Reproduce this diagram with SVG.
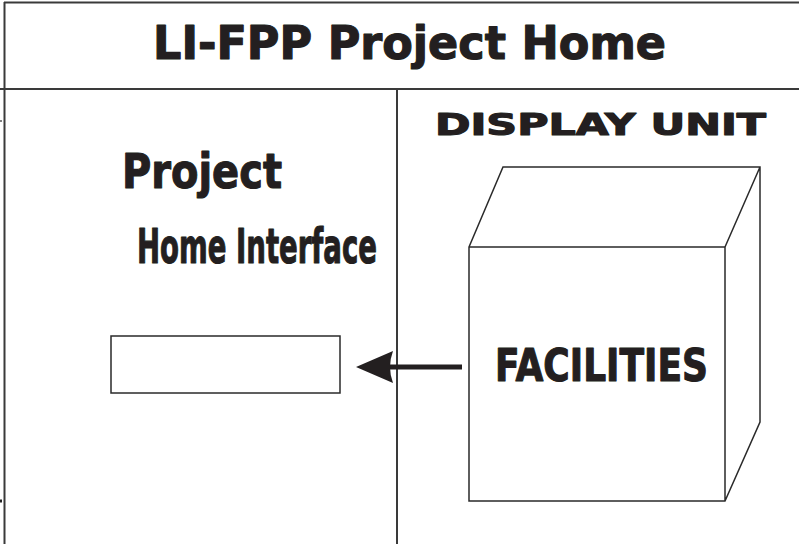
<svg xmlns="http://www.w3.org/2000/svg" width="799" height="544" viewBox="0 0 799 544">
<style>
.frame{stroke:#3a3a3a;stroke-width:2;fill:none}
.thin{stroke:#2a2a2a;stroke-width:1.5;fill:none}
.t{font-family:"DejaVu Sans","Liberation Sans",Arial,sans-serif;font-weight:bold;fill:#231f20;stroke:#231f20;stroke-linejoin:round}
</style>
<rect width="799" height="544" fill="#ffffff"/>
<g id="frame">
<line class="frame" x1="4" y1="2.5" x2="799" y2="2.5"/>
<line class="frame" x1="4.5" y1="2" x2="4.5" y2="544"/>
<line class="frame" x1="0" y1="89" x2="799" y2="89"/>
<line class="frame" x1="397" y1="89" x2="397" y2="544"/>
<line stroke="#555" stroke-width="1.5" x1="0" y1="121" x2="2" y2="121"/>
<line stroke="#222" stroke-width="3" x1="0" y1="501" x2="2" y2="501"/>
</g>
<g id="title">
<text class="t" x="153" y="59" font-size="47" stroke-width="1.2" textLength="513" lengthAdjust="spacingAndGlyphs">LI-FPP Project Home</text>
</g>
<g id="project-home-interface">
<text class="t" x="122" y="188" font-size="48" stroke-width="1.2" textLength="160" lengthAdjust="spacingAndGlyphs">Project</text>
<text class="t" x="137" y="263" font-size="48" stroke-width="1.2" textLength="240" lengthAdjust="spacingAndGlyphs">Home Interface</text>
<rect class="thin" x="111" y="336" width="229" height="57"/>
</g>
<g id="display-unit">
<text class="t" x="435" y="135" font-size="30" stroke-width="1.2" textLength="331" lengthAdjust="spacingAndGlyphs">DISPLAY UNIT</text>
<path class="thin" d="M469 247 L503 167 L760 167 L760 422 L725 501 L469 501 Z M469 247 L725 247 L760 167 M725 247 L725 501"/>
<text class="t" x="495" y="381" font-size="45" stroke-width="1.2" textLength="213" lengthAdjust="spacingAndGlyphs">FACILITIES</text>
</g>
<g id="connectors">
<line x1="462" y1="367" x2="388" y2="367" stroke="#231f20" stroke-width="5"/>
<path d="M356 367 L393 351 Q387 367 393 383 Z" fill="#231f20"/>
</g>
</svg>
